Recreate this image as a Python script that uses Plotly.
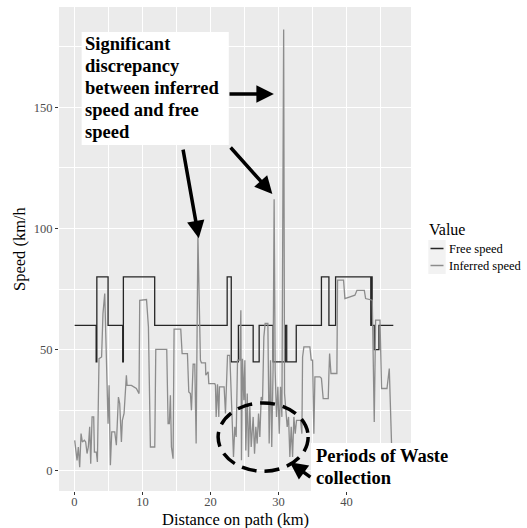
import plotly.graph_objects as go

# ---------------- data ----------------
free_x = [0.04, 3.2, 3.3, 4.95, 7.1, 7.2, 11.8, 22.45, 23.05, 24.1, 26.27, 27.15,
          29.2, 31.0, 31.2, 32.6, 36.3, 37.4, 38.38, 43.55, 43.65, 43.75, 44.06,
          44.75, 46.86]
free_y = [60, 45, 80, 60, 45, 80, 60, 80, 45, 60, 45, 60,
          45, 60, 45, 60, 80, 60, 80, 60, 80, 60, 50,
          60, 60]

inf_x = [0.05, 0.39, 0.58, 0.78, 0.98, 1.17, 1.47, 1.66, 1.86, 2.05, 2.25, 2.4, 2.6,
         2.84, 2.94, 3.23, 3.38, 3.62, 4.0, 4.2, 4.46, 4.7, 4.95, 5.1, 5.29, 5.49,
         5.93, 6.17, 6.47, 6.66, 6.91, 7.05, 7.3, 7.64, 7.74, 8.38, 9.11, 9.5, 9.6,
         10.6, 10.88, 11.17, 11.81, 11.96, 13.57, 13.77, 13.95, 14.11, 14.26, 14.5,
         14.65, 15.63, 15.83, 16.61, 16.81, 17.05, 17.2, 17.45, 17.69, 17.89, 18.15,
         18.52, 18.67, 19.26, 19.31, 19.65, 19.75, 20.63, 20.73, 20.83, 21.03, 21.22,
         21.32, 22.0, 22.2, 22.5, 22.84, 23.38, 23.57, 23.77, 23.97, 24.3, 24.46,
         24.55, 24.7, 24.9, 25.05, 25.19, 25.4, 25.58, 25.78, 25.98, 26.27, 26.47,
         26.66, 26.86, 27.06, 27.25, 27.45, 27.65, 27.84, 28.03, 28.43, 28.62, 28.82,
         29.0, 29.2, 29.35, 29.5, 29.7, 29.9, 30.1, 30.29, 30.49, 30.75, 30.88, 31.07,
         31.27, 31.47, 31.66, 31.86, 32.06, 32.25, 32.45, 32.64, 33.23, 33.43, 33.53,
         33.72, 34.6, 34.8, 35.0, 35.19, 35.34, 36.07, 36.3, 36.56, 37.3, 37.4, 37.5,
         37.7, 38.57, 38.67, 39.55, 39.75, 40.49, 41.22, 41.52, 42.6, 42.79, 43.57,
         43.77, 44.06, 44.26, 44.9, 45.14, 45.93, 46.27, 46.6, 47.1]
inf_y = [12.6, 4.4, 9.9, 1.6, 15.4, 12, 12.7, 12, 7.2, 9.9, 18.2, 3, 22.3,
         22.3, 7.8, 7.8, 3.7, 46.3, 47.0, 64.9, 73.2, 42.9, 19.5, 35.3, 2.4, 16.1,
         16.1, 10.6, 30.5, 27.8, 12, 20.9, 23.7, 39.5, 35.3, 35.3, 34, 31.9, 70.4,
         70.7, 59.4, 9.9, 9.9, 50.1, 50.1, 19.5, 19.5, 31.2, 9.9, 5.1,
         58.5, 58.5, 48.4, 48.4, 32.6, 31.9, 25, 44, 44, 11.3, 97,
         45.7, 44.6, 44.6, 39.5, 40.9, 36, 36, 35.3, 22.3, 35.8, 22.3,
         34.7, 34.7, 23.7, 47.7, 47.7, 5.8, 18.2, 14, 45.7, 45.7, 66.3,
         4.4, 46.3, 29.2, 45.7, 8.5, 31.9, 5.8, 26.4, 9.9, 22.3, 7.1,
         18.2, 11.3, 23.7, 14, 30.5, 29.2, 55.3, 60.8, 60.8, 11.3, 45.7,
         9.9, 42.9, 112, 41.5, 22.3, 34.7, 15.4, 34.7, 22.3, 182, 31.9, 26.4,
         18.2, 22.3, 5.8, 18.2, 5.8, 22.3, 15.4, 20.9, 20.9, 15.4, 47,
         51.2, 51.2, 45.7, 45.7, 15.4, 38.8, 38.8, 38.2, 29.8, 29.8, 40.2, 48.4,
         40.2, 40.2, 78.7, 78.7, 71.1, 71.8, 72.5, 74.5, 74.5, 71.1, 70.7,
         70.4, 20.2, 62.2, 62.2, 34, 34, 42.2, 11.3, 8]

series_names = ["Free speed", "Inferred speed"]
series_colors = ["#262626", "#8c8c8c"]

x_ticks = [0, 10, 20, 30, 40]
y_ticks = [0, 50, 100, 150]

x_title = "Distance on path (km)"
y_title = "Speed (km/h"
legend_title = "Value"
box_lines = ["Significant", "discrepancy", "between inferred", "speed and free", "speed"]
waste_lines = ["Periods of Waste", "collection"]

SERIF = "Liberation Serif"

fig = go.Figure()
fig.add_trace(go.Scatter(x=free_x, y=free_y, mode="lines", line_shape="hv",
                         name=series_names[0],
                         line=dict(color=series_colors[0], width=1.3),
                         showlegend=False))
fig.add_trace(go.Scatter(x=inf_x, y=inf_y, mode="lines",
                         name=series_names[1],
                         line=dict(color=series_colors[1], width=1.3),
                         showlegend=False))

# pixel -> paper helpers for the chrome outside the panel
L, R, T, B = 59, 411, 7, 491
def px2x(p):
    return (p - L) / (R - L)
def py2y(p):
    return (B - p) / (B - T)

shapes = []
annotations = []

# white text box (upper-left)
shapes.append(dict(type="rect", xref="x", yref="y", x0=1.07, x1=22.69, y0=134.4, y1=181.0,
                   fillcolor="white", line=dict(width=0), layer="above"))
line_y = [176.0, 166.9, 157.8, 148.8, 139.7]
for txt, yy in zip(box_lines, line_y):
    annotations.append(dict(x=1.2, y=yy, xref="x", yref="y", text=txt, showarrow=False,
                            xanchor="left", yanchor="middle",
                            font=dict(family=SERIF, size=18.5, color="black", weight="bold")))

# arrows (tip x,y ; tail ax,ay)
arrows = [
    (29.31, 155.4, 22.57, 155.4),
    (18.28, 96.0, 15.93, 133.1),
    (29.09, 114.2, 22.76, 134.0),
    (31.66, 3.6, 34.9, -3.0),
]
for (tx, ty, axx, ayy) in arrows:
    annotations.append(dict(x=tx, y=ty, ax=axx, ay=ayy, xref="x", yref="y",
                            axref="x", ayref="y", text="", showarrow=True,
                            arrowhead=2, arrowsize=1.0, arrowwidth=3.5,
                            arrowcolor="black", standoff=0, startstandoff=0))

# dashed ellipse
shapes.append(dict(type="circle", xref="x", yref="y", x0=21.12, x1=34.35, y0=-0.1, y1=28.05,
                   line=dict(color="black", width=3.5, dash="15px,8px"), layer="above"))

# waste collection label box
shapes.append(dict(type="rect", xref="paper", yref="paper", x0=px2x(311), x1=px2x(458),
                   y0=py2y(491), y1=py2y(443), fillcolor="white", line=dict(width=0),
                   layer="above"))
for txt, p in zip(waste_lines, [456, 478]):
    annotations.append(dict(x=px2x(314), y=py2y(p), xref="paper", yref="paper", text=txt,
                            showarrow=False, xanchor="left", yanchor="middle",
                            font=dict(family=SERIF, size=18.5, color="black", weight="bold")))

# axis titles
annotations.append(dict(x=px2x(235), y=py2y(519.5), xref="paper", yref="paper", text=x_title,
                        showarrow=False, xanchor="center", yanchor="middle",
                        font=dict(family=SERIF, size=16.5, color="black")))
annotations.append(dict(x=px2x(19), y=py2y(249), xref="paper", yref="paper", text=y_title,
                        showarrow=False, xanchor="center", yanchor="middle", textangle=-90,
                        font=dict(family=SERIF, size=16.5, color="black")))

# manual ggplot-style legend
annotations.append(dict(x=px2x(427), y=py2y(229), xref="paper", yref="paper", text=legend_title,
                        showarrow=False, xanchor="left", yanchor="middle",
                        font=dict(family=SERIF, size=16, color="black")))
for i, (nm, col) in enumerate(zip(series_names, series_colors)):
    top = 240 + 17 * i
    shapes.append(dict(type="rect", xref="paper", yref="paper", x0=px2x(428.3), x1=px2x(445.7),
                       y0=py2y(top + 17), y1=py2y(top), fillcolor="#f2f2f2",
                       line=dict(width=0)))
    shapes.append(dict(type="line", xref="paper", yref="paper", x0=px2x(430.5), x1=px2x(443.5),
                       y0=py2y(top + 8.5), y1=py2y(top + 8.5), line=dict(color=col, width=1.5)))
    annotations.append(dict(x=px2x(447), y=py2y(top + 8.5), xref="paper", yref="paper", text=nm,
                            showarrow=False, xanchor="left", yanchor="middle",
                            font=dict(family=SERIF, size=12.5, color="black")))

axis_common = dict(showgrid=True, gridcolor="white", gridwidth=1.1, zeroline=False,
                   ticks="outside", ticklen=3, tickwidth=1, tickcolor="#333333",
                   showline=False, automargin=False,
                   tickfont=dict(family=SERIF, size=12.5, color="#4d4d4d"))

fig.update_layout(
    width=527, height=528,
    margin=dict(l=L, r=527 - R, t=T, b=528 - B, pad=0, autoexpand=False),
    paper_bgcolor="white", plot_bgcolor="#ebebeb",
    shapes=shapes, annotations=annotations,
    xaxis=dict(range=[-2.26, 49.46], tickvals=x_ticks, ticklabelstandoff=-4,
               minor=dict(dtick=5, tick0=0, showgrid=True, gridcolor="white", gridwidth=0.5),
               **axis_common),
    yaxis=dict(range=[-8.25, 191.3], tickvals=y_ticks,
               minor=dict(dtick=25, tick0=0, showgrid=True, gridcolor="white", gridwidth=0.5),
               **axis_common),
    font=dict(family=SERIF),
)

fig.write_html("out.html", config={"displayModeBar": False},
               post_script="document.body.style.margin='0';document.body.style.overflow='hidden';")
